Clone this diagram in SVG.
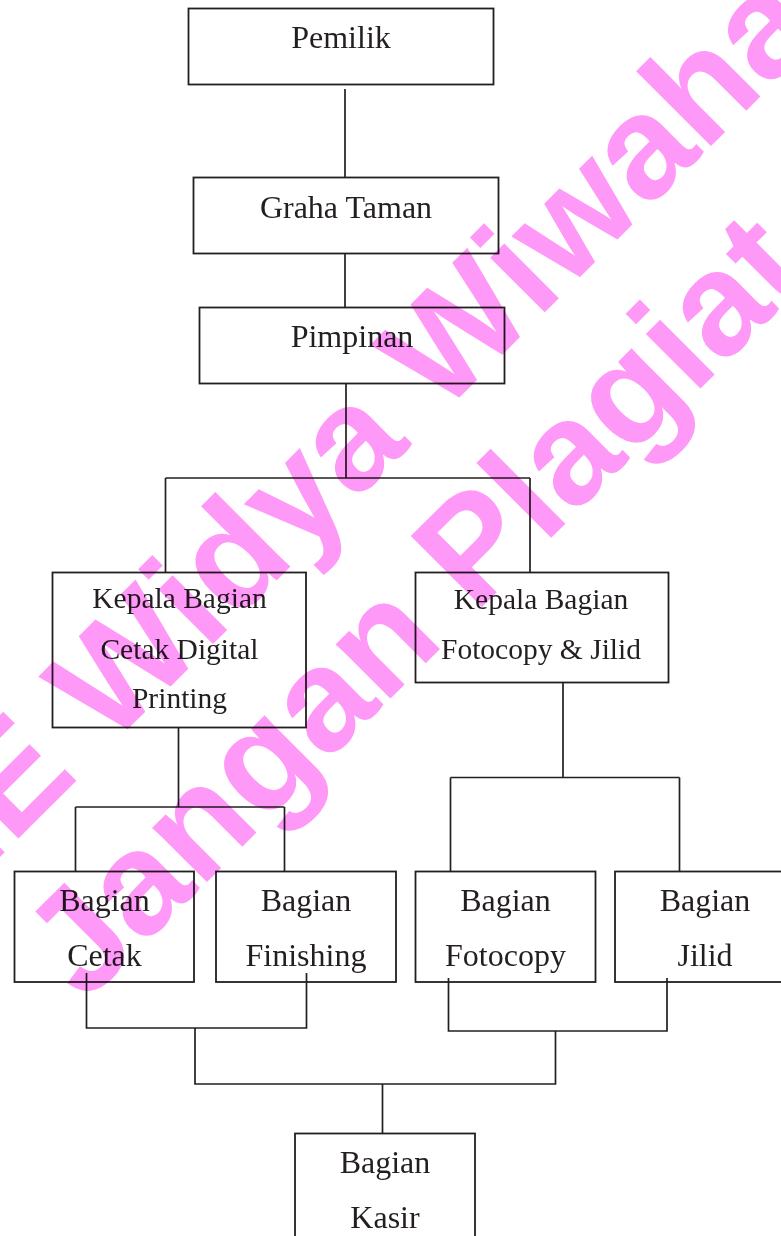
<svg xmlns="http://www.w3.org/2000/svg" width="781" height="1236" viewBox="0 0 781 1236">
<style>
.box{fill:none;stroke:#231f20;stroke-width:1.8}
.ln{fill:none;stroke:#231f20;stroke-width:1.7}
.t{font-family:"Liberation Serif","Times New Roman",serif;fill:#231f20;text-anchor:middle}
.t32{font-size:32px}
.t29{font-size:29.5px}
.wm{font-family:"Liberation Sans",Arial,sans-serif;font-weight:bold;font-size:146px;fill:#ff99f8;mix-blend-mode:multiply}
</style>
<rect width="781" height="1236" fill="#ffffff"/>
<g id="connectors">
<path class="ln" d="M345 89V177.5M345 253.5V307.5M346 383.5V478M165.5 478H530M165.5 478V572.5M530 478V572.5"/>
<path class="ln" d="M178.5 727.5V807M75.5 807H284.5M75.5 807V871.5M284.5 807V871.5"/>
<path class="ln" d="M563 682.5V777.5M450.5 777.5H679.5M450.5 777.5V871.5M679.5 777.5V871.5"/>
<path class="ln" d="M86.5 973V1028H306.5V973M448.5 978V1031H667V978M195 1028V1084H555.5V1031M382.5 1084V1133.5"/>
</g>
<g id="pemilik"><rect class="box" x="188.5" y="8.5" width="305" height="76"/><text class="t t32" x="341" y="48">Pemilik</text></g>
<g id="graha-taman"><rect class="box" x="193.5" y="177.5" width="305" height="76"/><text class="t t32" x="346" y="218">Graha Taman</text></g>
<g id="pimpinan"><rect class="box" x="199.5" y="307.5" width="305" height="76"/><text class="t t32" x="352" y="347">Pimpinan</text></g>
<g id="kabag-cetak"><rect class="box" x="52.5" y="572.5" width="253.5" height="155"/>
<text class="t t29" x="179.5" y="608">Kepala Bagian</text><text class="t t29" x="179.5" y="659">Cetak Digital</text><text class="t t29" x="179.5" y="708">Printing</text></g>
<g id="kabag-fotocopy"><rect class="box" x="415.5" y="572.5" width="253" height="110"/>
<text class="t t29" x="541" y="609">Kepala Bagian</text><text class="t t29" x="541" y="659">Fotocopy &amp; Jilid</text></g>
<g id="bagian-cetak"><rect class="box" x="14.5" y="871.5" width="179.5" height="110.5"/>
<text class="t t32" x="104.5" y="911">Bagian</text><text class="t t32" x="104.5" y="966">Cetak</text></g>
<g id="bagian-finishing"><rect class="box" x="216" y="871.5" width="180" height="110.5"/>
<text class="t t32" x="306" y="911">Bagian</text><text class="t t32" x="306" y="966">Finishing</text></g>
<g id="bagian-fotocopy"><rect class="box" x="415.5" y="871.5" width="180" height="110.5"/>
<text class="t t32" x="505.5" y="911">Bagian</text><text class="t t32" x="505.5" y="966">Fotocopy</text></g>
<g id="bagian-jilid"><rect class="box" x="615" y="871.5" width="180" height="110.5"/>
<text class="t t32" x="705" y="911">Bagian</text><text class="t t32" x="705" y="966">Jilid</text></g>
<g id="bagian-kasir"><rect class="box" x="295" y="1133.5" width="180" height="130"/>
<text class="t t32" x="385" y="1173">Bagian</text><text class="t t32" x="385" y="1228">Kasir</text></g>
<g id="watermark">
<text class="wm" transform="translate(-149,1006) rotate(-45)">STIE Widya Wiwaha</text>
<text class="wm" transform="translate(85,1004) rotate(-45)">Jangan Plagiat</text>
</g>
</svg>
